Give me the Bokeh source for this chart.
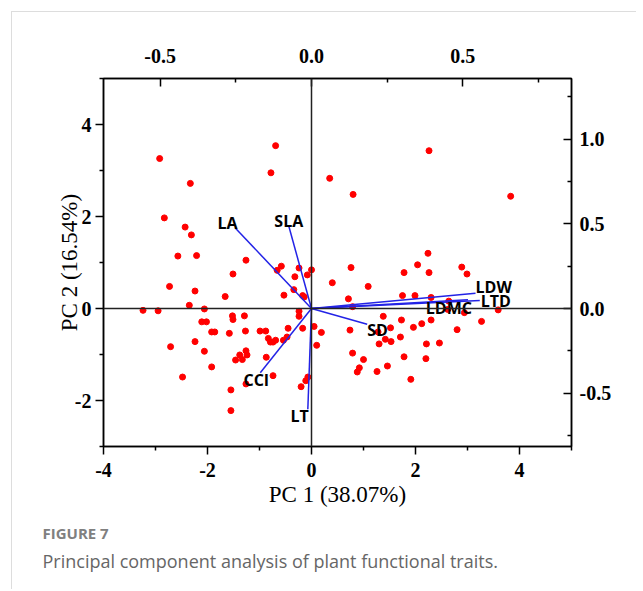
from bokeh.plotting import figure
from bokeh.models import Range1d, LinearAxis, Span, Title, FixedTicker, NumeralTickFormatter
from bokeh.core.properties import value
from bokeh.embed import file_html
from bokeh.resources import INLINE

# PCA scores (PC1, PC2)
pc1 = [-2.92, -0.69, -0.78, -2.33, 0.35, -2.83, -2.43, -2.31, -2.57, -2.21,
       -1.26, -0.58, -0.24, 0.00, 2.26, 0.80, 3.83, 2.24, 2.04, 2.89,
       0.76, -0.66, -1.51, -0.32, -0.08, -2.73, -2.24, 0.40, -1.66, -0.53,
       -0.34, -0.17, -0.14, -2.35, -3.24, -2.95, -2.06, -0.24, -0.24, -1.52,
       -1.51, -1.29, -2.11, -2.02, 0.05, -0.17, 0.19, -0.45, -1.92, -1.86,
       -1.58, -1.27, -0.99, -0.88, -0.47, -0.54, -0.83, -0.79, -0.74, -0.69,
       -2.24, -2.71, -2.06, 0.10, -1.26, -1.24, -1.38, -1.33, -1.46, -0.87,
       -1.92, -0.74, -2.48, -0.07, -0.11, -1.26, -0.20, -1.55, -1.55,
       1.78, 2.26, 2.99, 1.09, 1.75, 1.99, 2.30, 0.71, 0.79, 2.64,
       2.94, 3.59, 3.27, 1.38, 1.73, 2.12, 2.30, 1.96, 2.80, 0.74,
       1.52, 1.28, 1.42, 1.53, 1.71, 1.30, 2.21, 2.46, 0.79, 1.00,
       1.78, 2.20, 1.46, 0.92, 0.88, 1.26, 1.91, 2.62]
pc2 = [3.26, 3.54, 2.95, 2.72, 2.83, 1.97, 1.77, 1.60, 1.14, 1.15,
       1.05, 0.92, 0.88, 0.84, 3.43, 2.48, 2.44, 1.20, 0.95, 0.90,
       0.89, 0.83, 0.75, 0.69, 0.73, 0.48, 0.38, 0.56, 0.26, 0.29,
       0.41, 0.28, 0.25, 0.07, -0.04, -0.05, -0.01, -0.06, -0.17, -0.16,
       -0.24, -0.16, -0.29, -0.29, -0.39, -0.43, -0.52, -0.43, -0.51, -0.51,
       -0.54, -0.49, -0.49, -0.49, -0.62, -0.69, -0.65, -0.73, -0.73, -0.69,
       -0.72, -0.83, -0.93, -0.80, -0.92, -1.01, -1.01, -1.11, -1.12, -1.06,
       -1.27, -1.46, -1.49, -1.49, -1.57, -1.64, -1.70, -1.77, -2.22,
       0.78, 0.78, 0.75, 0.48, 0.28, 0.28, 0.24, 0.21, 0.04, 0.16,
       -0.09, -0.03, -0.28, -0.17, -0.25, -0.33, -0.25, -0.41, -0.46, -0.47,
       -0.42, -0.51, -0.67, -0.72, -0.62, -0.77, -0.77, -0.75, -0.97, -1.11,
       -1.05, -1.09, -1.25, -1.29, -1.38, -1.37, -1.54, -0.02]

# Trait loadings
traits = ["LA", "SLA", "CCI", "LT", "SD", "LDW", "LTD", "LDMC"]
load1 = [-0.251, -0.075, -0.169, -0.012, 0.184, 0.542, 0.556, 0.517]
load2 = [0.474, 0.487, -0.379, -0.594, -0.093, 0.090, 0.048, 0.052]

# axis ticks
x_ticks = [-4, -2, 0, 2, 4]
y_ticks = [-2, 0, 2, 4]
top_ticks = [-0.5, 0.0, 0.5]
right_ticks = [-0.5, 0.0, 0.5, 1.0]

p = figure(width=625, height=578, x_range=Range1d(-4, 5), y_range=Range1d(-3, 5),
           output_backend="svg", toolbar_location=None,
           min_border_left=91, min_border_right=66, min_border_top=66, min_border_bottom=144)
p.margin = (11, 0, 0, 11)
p.styles = {"border-top": "1px solid #dddddd", "border-left": "1px solid #dddddd"}
p.extra_x_ranges = {"lx": Range1d(-0.687, 0.859)}
p.extra_y_ranges = {"ly": Range1d(-0.814, 1.357)}
p.xgrid.visible = False
p.ygrid.visible = False
p.outline_line_color = "black"
p.outline_line_width = 1.5
p.background_fill_color = "white"
p.border_fill_color = "white"


def style_axis(ax, tin, tout, standoff):
    ax.axis_line_color = "black"
    ax.axis_line_width = 1.5
    ax.major_tick_line_color = "black"
    ax.major_tick_line_width = 1.5
    ax.minor_tick_line_color = "black"
    ax.minor_tick_line_width = 1.5
    ax.major_tick_in = tin
    ax.major_tick_out = tout
    ax.minor_tick_in = tin // 2
    ax.minor_tick_out = tout // 2
    ax.major_label_text_font = "Liberation Serif"
    ax.major_label_text_font_style = "bold"
    ax.major_label_text_font_size = "20px"
    ax.major_label_text_color = "black"
    ax.major_label_standoff = standoff


xa = p.xaxis[0]
xa.ticker = FixedTicker(ticks=x_ticks, minor_ticks=[-3, -1, 1, 3, 5])
xa.formatter = NumeralTickFormatter(format="0")
style_axis(xa, 0, 8, 8)
xa.axis_label = "PC 1 (38.07%)"
xa.axis_label_text_font = "Liberation Serif"
xa.axis_label_text_font_style = "normal"
xa.axis_label_text_font_size = "23px"
xa.axis_label_text_color = "black"
xa.axis_label_standoff = 2

ya = p.yaxis[0]
ya.ticker = FixedTicker(ticks=y_ticks, minor_ticks=[-3, -1, 1, 3, 5])
ya.formatter = NumeralTickFormatter(format="0")
style_axis(ya, 0, 8, 4)
ya.axis_label = "PC 2 (16.54%)"
ya.axis_label_text_font = "Liberation Serif"
ya.axis_label_text_font_style = "normal"
ya.axis_label_text_font_size = "23px"
ya.axis_label_text_color = "black"
ya.axis_label_standoff = -10

ta = LinearAxis(x_range_name="lx")
ta.ticker = FixedTicker(ticks=top_ticks, minor_ticks=[-0.25, 0.25, 0.75])
ta.formatter = NumeralTickFormatter(format="0.0")
style_axis(ta, 8, 0, 16)
p.add_layout(ta, "above")

ra = LinearAxis(y_range_name="ly")
ra.ticker = FixedTicker(ticks=right_ticks, minor_ticks=[-0.75, -0.25, 0.25, 0.75, 1.25])
ra.formatter = NumeralTickFormatter(format="0.0")
style_axis(ra, 8, 0, 8)
p.add_layout(ra, "right")

p.add_layout(Span(location=0, dimension="height", line_color="#222222", line_width=1.5))
p.add_layout(Span(location=0, dimension="width", line_color="#222222", line_width=1.5))

p.scatter(pc1, pc2, size=6, fill_color="#ff0000", line_color="#ff0000")

p.segment(x0=[0] * len(traits), y0=[0] * len(traits), x1=load1, y1=load2,
          x_range_name="lx", y_range_name="ly", line_color="#2323e6", line_width=1.5)

placement = {
    "LA": ("right", "bottom", 2, 6),
    "SLA": ("center", "bottom", 0, 6),
    "CCI": ("center", "top", -4, -4),
    "LT": ("right", "top", 1, -4),
    "SD": ("left", "top", 0, -5),
    "LDW": ("left", "bottom", 0, 5),
    "LTD": ("left", "middle", 1, 1),
    "LDMC": ("right", "top", 4, -3),
}
for name, lx, ly in zip(traits, load1, load2):
    al, bl, dx, dy = placement[name]
    p.text(x=[lx], y=[ly], text=[name], x_range_name="lx", y_range_name="ly",
           text_align=al, text_baseline=bl, x_offset=dx, y_offset=dy,
           text_font=value("Open Sans"), text_font_style="bold",
           text_font_size="16px", text_color="black")

# caption
t1 = Title(text="FIGURE 7", align="left", offset=-61, standoff=23,
           text_font="Open Sans", text_font_style="bold", text_font_size="15px",
           text_color="#808080")
t2 = Title(text="Principal component analysis of plant functional traits.", align="left",
           offset=-61, standoff=-15, text_font="Open Sans", text_font_style="normal",
           text_font_size="18px", text_color="#666666")
p.add_layout(t1, "below")
p.add_layout(t2, "below")

open("out.html", "w").write(file_html(p, INLINE))
